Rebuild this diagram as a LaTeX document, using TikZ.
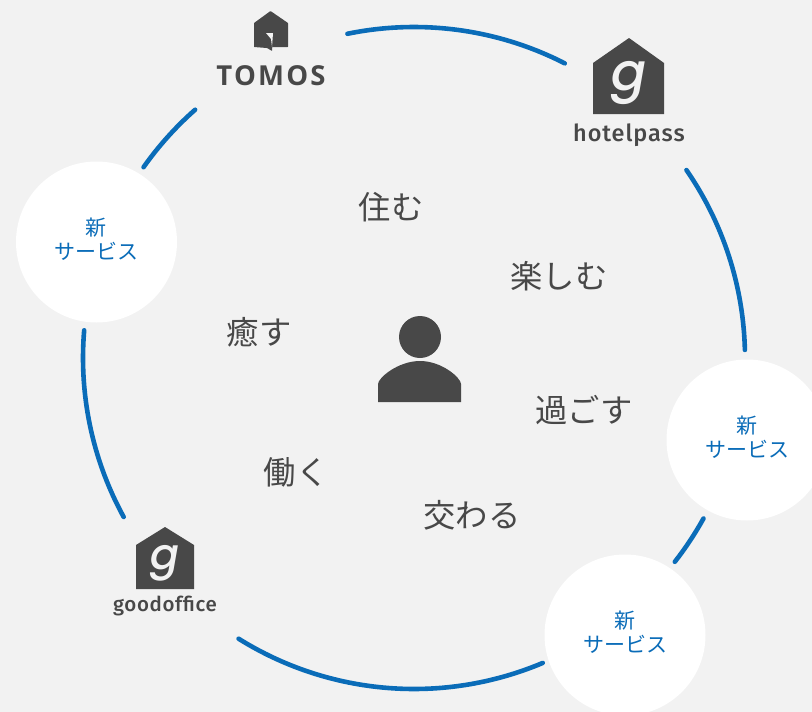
\documentclass[tikz,border=0pt]{standalone}
\usepackage{fontspec}
\newfontfamily\cjk{Noto Sans CJK JP}
\newfontfamily\logofont{Fira Sans Medium}
\newfontfamily\gfont{Poppins Medium}[ItalicFont={Poppins Medium Italic}]
\newfontfamily\tomosfont{Open Sans}
\definecolor{bgc}{HTML}{F2F2F2}
\definecolor{ink}{HTML}{484848}
\definecolor{ringc}{HTML}{0A6CB8}
\tikzset{
  ring/.style={draw=ringc,line width=4.6pt,line cap=round},
  word/.style={text=ink,inner sep=0pt,font=\cjk\fontsize{32.3}{36}\selectfont},
  bubble/.style={circle,fill=white,minimum size=161pt,inner sep=0pt},
  bubbletext/.style={inner sep=0pt,align=center,text=ringc,yshift=2.5pt,
     font=\cjk\fontsize{21}{24}\selectfont},
  logotext/.style={text=ink,inner sep=0pt},
  house/.style={fill=ink,draw=none}
}
\begin{document}
\begin{tikzpicture}[x=1pt,y=-1pt]
\useasboundingbox (0,0) rectangle (812,712);
\clip (0,0) rectangle (812,712);
\fill[bgc] (0,0) rectangle (812,712);
\coordinate (c) at (414,358);
% ring
\draw[ring] (c) ++(101.6:331pt) arc[start angle=101.6,end angle=62.9,radius=331pt];
\draw[ring] (c) ++(34.6:331pt) arc[start angle=34.6,end angle=1.4,radius=331pt];
\draw[ring] (c) ++(-29:331pt) arc[start angle=-29,end angle=-38,radius=331pt];
\draw[ring] (c) ++(-67.1:331pt) arc[start angle=-67.1,end angle=-122,radius=331pt];
\draw[ring] (c) ++(208.7:331pt) arc[start angle=208.7,end angle=175.2,radius=331pt];
\draw[ring] (c) ++(144.8:331pt) arc[start angle=144.8,end angle=131.4,radius=331pt];
% bubbles
\node[bubble] (s1) at (96.5,242) {};
\node[bubble] (s2) at (747,440) {};
\node[bubble] (s3) at (625,635) {};
\node[bubbletext] (t1) at (s1) {新\\サービス};
\node[bubbletext] (t2) at (s2) {新\\サービス};
\node[bubbletext] (t3) at (s3) {新\\サービス};
% words
\node[word] (w1) at (391,207) {住む};
\node[word] (w2) at (559,276) {楽しむ};
\node[word] (w3) at (259,332) {癒す};
\node[word] (w4) at (584,410) {過ごす};
\node[word] (w5) at (296,472) {働く};
\node[word] (w6) at (472,515) {交わる};
% person
\fill[ink] (420,337) circle (21pt);
\fill[ink] (378,402) -- (378,384) .. controls (378,378) and (398,361) .. (420,361)
  .. controls (442,361) and (461,378) .. (461,384) -- (461,402) -- cycle;
% TOMOS
\fill[house,rounded corners=0.5pt] (254,23) -- (270.5,11) -- (288,23) -- (288,47) -- (272,47) -- (272,51) -- (267,48) -- (254,47) -- cycle;
\fill[bgc] (266,33) -- (273,33) -- (272,47) -- (271,39) -- cycle;
\node[logotext,font=\tomosfont\bfseries\fontsize{27.5}{30}\selectfont] (tomos) at (271,76) {\addfontfeature{LetterSpace=8}TOMOS};
% hotelpass
\fill[house] (593,63) -- (629,38) -- (664,63) -- (664,114) -- (593,114) -- cycle;
\node[text=bgc,inner sep=0pt,font=\gfont\itshape\fontsize{52}{56}\selectfont] (g1) at (629,83) {g};
\node[logotext,font=\logofont\addfontfeature{LetterSpace=4}\fontsize{23.5}{26}\selectfont] (hp) at (629,135) {hotelpass};
% goodoffice
\fill[house] (136,545) -- (165,527) -- (194,545) -- (194,589) -- (136,589) -- cycle;
\node[text=bgc,inner sep=0pt,font=\gfont\itshape\fontsize{43}{47}\selectfont] (g2) at (165,563) {g};
\node[logotext,font=\logofont\addfontfeature{LetterSpace=3}\fontsize{20.5}{23}\selectfont] (go) at (165,606) {goodoffice};
\end{tikzpicture}
\end{document}
